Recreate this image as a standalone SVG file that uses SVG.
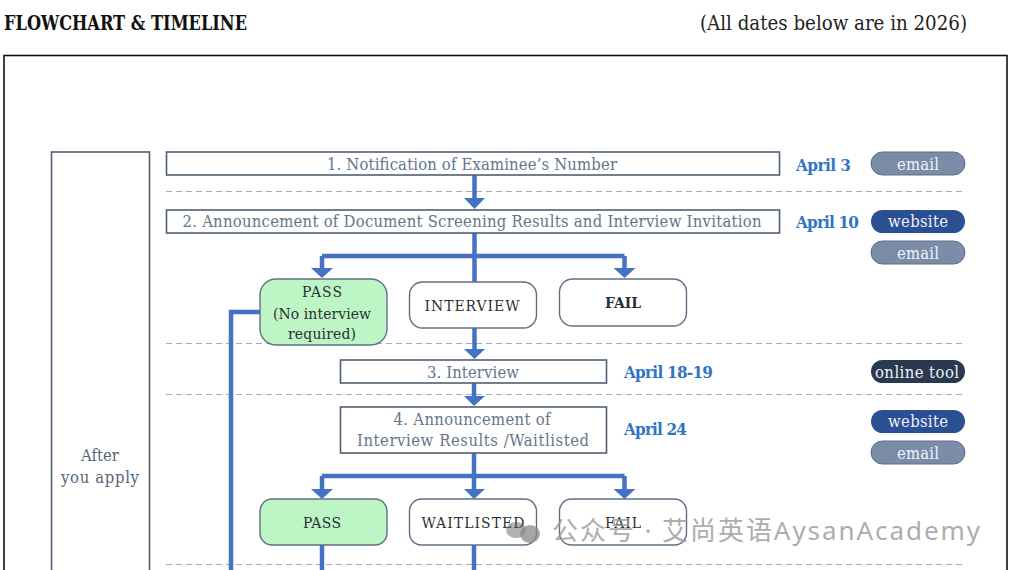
<svg xmlns="http://www.w3.org/2000/svg" width="1011" height="570" viewBox="0 0 1011 570">
<style>
text{font-family:"DejaVu Serif Condensed","DejaVu Serif","Liberation Serif",serif}
.box{fill:#fff;stroke:#4f5f72;stroke-width:1.6}
.t{font-size:16.500px;fill:#66758a;text-anchor:middle}
.n{font-size:15.500px;fill:#2b2f33;text-anchor:middle}
.rw{fill:#fff;stroke:#5f7085;stroke-width:1.4}
.rg{fill:#bdf5c4;stroke:#5f7085;stroke-width:1.4}
.d{font-size:17px;font-weight:bold;fill:#2f75c4}
.p{font-size:16.500px;fill:#eef2f8;text-anchor:middle}
.dash{fill:none;stroke:#9db0c4;stroke-width:1.2;stroke-dasharray:6 4}
.c{fill:none;stroke:#4472c4;stroke-width:4.500}
.h{fill:#4472c4}
.pg{fill:#7a8ca8;stroke:#5f7085}
.pb{fill:#2a4f92}
.pd{fill:#2a3850}
</style>
<rect width="1011" height="570" fill="#fff"/>
<text x="4" y="30" font-size="20" font-weight="bold" fill="#111" textLength="243" lengthAdjust="spacingAndGlyphs">FLOWCHART &amp; TIMELINE</text>
<text x="700" y="30" font-size="20" fill="#222" textLength="267" lengthAdjust="spacingAndGlyphs">(All dates below are in 2026)</text>
<rect x="4" y="55.500" width="1003" height="530" fill="#fff" stroke="#111" stroke-width="1.6"/>
<g id="dashes">
<path class="dash" d="M166 191.500H966M166 343.500H966M166 394.500H966M166 564.500H966"/>
</g>
<g id="connectors">
<path class="c" d="M474.500 175V198"/><path class="h" d="M464 198H485L474.500 209Z"/>
<path class="c" d="M474.500 233V282M322 256H624.500M322 256V268M624.500 256V268"/>
<path class="h" d="M311 268H333L322 278Z"/><path class="h" d="M613.500 268H635.500L624.500 278Z"/>
<path class="c" d="M474.500 328V349"/><path class="h" d="M464 349H485L474.500 359Z"/>
<path class="c" d="M474 383V397"/><path class="h" d="M464 396H485L474 406Z"/>
<path class="c" d="M474 453V490M322 476H624.500M322 476V490M624.500 476V490"/>
<path class="h" d="M311 489H333L322 499Z"/><path class="h" d="M464 489H485L474 499Z"/><path class="h" d="M613.500 489H635.500L624.500 499Z"/>
<path class="c" d="M260 312H231V570M322 545V570M474 545V570"/>
</g>
<g id="after"><rect class="box" x="51.500" y="152" width="98" height="430"/><text class="t" x="100" y="461" fill="#56657a" style="fill:#56657a">After</text><text class="t" x="100" y="483" style="fill:#56657a" textLength="78">you apply</text></g>
<g id="step1"><rect class="box" x="166.500" y="152" width="613" height="23"/><text class="t" x="472" y="170" textLength="290">1. Notification of Examinee’s Number</text></g>
<g id="step2"><rect class="box" x="166.500" y="210" width="613" height="23"/><text class="t" x="472" y="227" textLength="579">2. Announcement of Document Screening Results and Interview Invitation</text></g>
<g id="pass1"><rect class="rg" x="260" y="279" width="127" height="66" rx="16"/><text class="n" x="322" y="297" textLength="40">PASS</text><text class="n" x="322" y="319" textLength="98">(No interview</text><text class="n" x="322" y="339" textLength="68">required)</text></g>
<g id="interview"><rect class="rw" x="409.500" y="282" width="127" height="46" rx="13"/><text class="n" x="472" y="311" textLength="95">INTERVIEW</text></g>
<g id="fail1"><rect class="rw" x="559.500" y="279" width="127" height="47" rx="13"/><text class="n" x="623" y="308" font-weight="bold" textLength="36">FAIL</text></g>
<g id="step3"><rect class="box" x="340.500" y="360" width="266" height="23"/><text class="t" x="473" y="378" textLength="92">3. Interview</text></g>
<g id="step4"><rect class="box" x="340.500" y="407" width="266" height="46"/><text class="t" x="472" y="425" textLength="157">4. Announcement of</text><text class="t" x="473" y="446" textLength="232">Interview Results /Waitlisted</text></g>
<g id="pass2"><rect class="rg" x="260" y="499" width="127" height="46" rx="12"/><text class="n" x="322" y="528" textLength="38">PASS</text></g>
<g id="waitlisted"><rect class="rw" x="409.500" y="499" width="127" height="46" rx="12"/><text class="n" x="473" y="528" textLength="103">WAITLISTED</text></g>
<g id="fail2"><rect class="rw" x="559.500" y="499" width="127" height="46" rx="12"/><text class="n" x="623" y="528" textLength="36">FAIL</text></g>
<g id="dates">
<text class="d" x="796" y="171" textLength="55">April 3</text>
<text class="d" x="796" y="228" textLength="63">April 10</text>
<text class="d" x="624" y="378" textLength="89">April 18-19</text>
<text class="d" x="624" y="435" textLength="63">April 24</text>
</g>
<g id="pills">
<rect class="pg" x="871" y="152" width="94" height="23" rx="11.500"/><text class="p" x="918" y="170" textLength="42">email</text>
<rect class="pb" x="871" y="210" width="94" height="23" rx="11.500"/><text class="p" x="918" y="227" textLength="60">website</text>
<rect class="pg" x="871" y="241" width="94" height="23" rx="11.500"/><text class="p" x="918" y="259" textLength="42">email</text>
<rect class="pd" x="871" y="360" width="94" height="23" rx="11.500"/><text class="p" x="917" y="378" textLength="84">online tool</text>
<rect class="pb" x="871" y="410" width="94" height="23" rx="11.500"/><text class="p" x="918" y="427" textLength="60">website</text>
<rect class="pg" x="871" y="441" width="94" height="23" rx="11.500"/><text class="p" x="918" y="459" textLength="42">email</text>
</g>
<g id="watermark">
<ellipse cx="516" cy="530" rx="10" ry="8" fill="#555" opacity=".45"/><ellipse cx="530" cy="534" rx="10" ry="9" fill="#888" opacity=".75"/>
<text x="552" y="540" font-size="26" fill="#999" opacity=".8" style="font-family:'Noto Sans','Noto Sans CJK SC',sans-serif" textLength="428">公众号 · 艾尚英语AysanAcademy</text>
</g>
</svg>
